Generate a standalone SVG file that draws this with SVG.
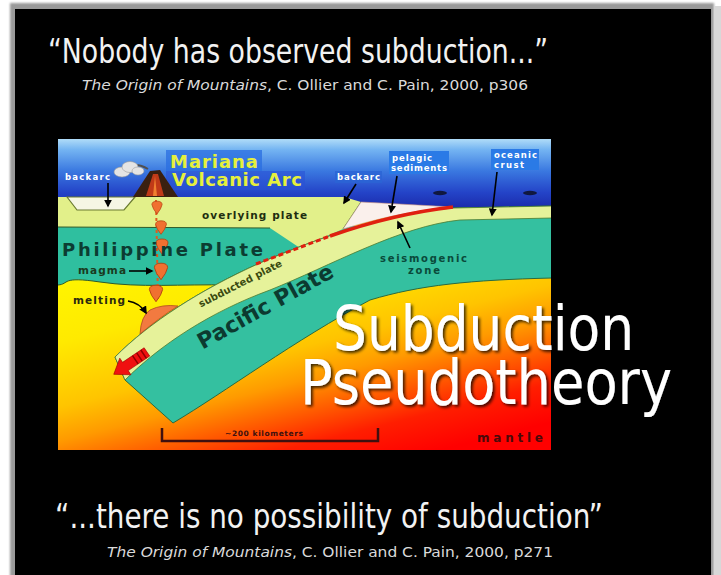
<svg xmlns="http://www.w3.org/2000/svg" width="721" height="575" viewBox="0 0 721 575">
  <defs>
    <style>
      .quote{font-family:"DejaVu Sans Condensed","DejaVu Sans",sans-serif;font-size:34px;fill:#f2f2f2}
      .cite{font-family:"DejaVu Sans Condensed","DejaVu Sans",sans-serif;font-size:13.5px;fill:#dadada}
      .big{font-family:"DejaVu Sans Condensed","DejaVu Sans",sans-serif;font-size:62px;fill:#ffffff}
      .lbl{font-family:"DejaVu Sans",sans-serif;font-weight:bold}
      .wlbl{font-family:"DejaVu Sans",sans-serif;font-weight:bold;font-size:8.5px;fill:#ffffff}
      .arrow{stroke:#000;stroke-width:1.6;fill:none;marker-end:url(#ah)}
      .edge{stroke:#2f5a2a;stroke-width:1;fill:none}
      .drop{fill:#f07030;stroke:#b04010;stroke-width:0.8}
    </style>
    <marker id="ah" viewBox="0 0 10 10" refX="8" refY="5" markerWidth="5" markerHeight="5" orient="auto">
      <path d="M0,0 L10,5 L0,10 Z" fill="#000"/>
    </marker>
    <linearGradient id="oceanGrad" x1="0" y1="139" x2="0" y2="210" gradientUnits="userSpaceOnUse">
      <stop offset="0" stop-color="#b0dcf8"/>
      <stop offset="0.15" stop-color="#74b4f2"/>
      <stop offset="0.45" stop-color="#3a78e0"/>
      <stop offset="0.75" stop-color="#2444c8"/>
      <stop offset="1" stop-color="#1a28a8"/>
    </linearGradient>
    <linearGradient id="mantleGrad" x1="70.6" y1="282.3" x2="131.7" y2="527" gradientUnits="userSpaceOnUse">
      <stop offset="0" stop-color="#fff400"/>
      <stop offset="0.22" stop-color="#ffea00"/>
      <stop offset="0.47" stop-color="#ffc400"/>
      <stop offset="0.6" stop-color="#ff9a00"/>
      <stop offset="0.73" stop-color="#ff5a00"/>
      <stop offset="0.85" stop-color="#ff1e00"/>
      <stop offset="1" stop-color="#ff0000"/>
    </linearGradient>
    <clipPath id="frame">
      <rect x="58" y="139" width="493" height="311"/>
    </clipPath>
    <filter id="shadow" x="-5%" y="-20%" width="110%" height="140%">
      <feDropShadow dx="2" dy="2" stdDeviation="1.5" flood-color="#000" flood-opacity="0.75"/>
    </filter>
    <filter id="soft"><feGaussianBlur stdDeviation="1"/></filter>
    <path id="dropShape" d="M-6,-4 Q-6,-8 0,-8 Q6,-8 6,-4 Q5,1 0,7 Q-5,1 -6,-4 Z"/>
  </defs>

  <!-- slide background with grey edge -->
  <rect width="721" height="575" fill="#ffffff"/>
  <rect x="10" y="3" width="704" height="580" fill="#9a9a9a" filter="url(#soft)"/>
  <rect x="714" y="6" width="7" height="569" fill="#d8d8d8"/>
  <rect x="15" y="9" width="696" height="570" fill="#000000"/>

  <!-- quotes -->
  <g id="quote-top">
    <text class="quote" x="48" y="63" textLength="500" lengthAdjust="spacingAndGlyphs">“Nobody has observed subduction...”</text>
    <text class="cite" x="82" y="90" textLength="446" lengthAdjust="spacingAndGlyphs"><tspan font-style="italic">The Origin of Mountains</tspan>, C. Ollier and C. Pain, 2000, p306</text>
  </g>
  <g id="quote-bottom">
    <text class="quote" x="55" y="528" textLength="548" lengthAdjust="spacingAndGlyphs">“...there is no possibility of subduction”</text>
    <text class="cite" x="107" y="557" textLength="446" lengthAdjust="spacingAndGlyphs"><tspan font-style="italic">The Origin of Mountains</tspan>, C. Ollier and C. Pain, 2000, p271</text>
  </g>

  <!-- cross-section of the Mariana subduction zone -->
  <g id="cross-section" clip-path="url(#frame)">
    <rect id="mantle" x="58" y="139" width="493" height="311" fill="url(#mantleGrad)"/>
    <rect id="ocean" x="58" y="139" width="493" height="76" fill="url(#oceanGrad)"/>
    <rect x="166" y="150" width="96" height="21" fill="#2a6ee0" opacity="0.75"/>
    <rect x="166" y="171" width="139" height="19" fill="#2a52d6" opacity="0.6"/>

    <g id="philippine-plate">
      <path d="M58,226 L360,226 L310,250 L230,285 C180,284 140,288 100,282 S70,284 58,285 Z" fill="#2fbf9f"/>
      <path class="edge" d="M230,285 C180,284 140,288 100,282 S70,284 58,285"/>
    </g>

    <g id="overlying-plate">
      <path d="M58,197 L343,197 Q352,199 361,202 L343,229 L300,248 L270,228 L58,227 Z" fill="#e2f08a"/>
      <path class="edge" d="M58,227 L270,228" stroke="#6a8a30"/>
      <path d="M361,202 L343,229" stroke="#3a8a30" stroke-width="1" fill="none"/>
      <path d="M67,197 L77,210 L124,210 L135,197 Z" fill="#f6f6e4" stroke="#6a7a30" stroke-width="1.2"/>
    </g>

    <g id="sediment-wedge">
      <path d="M343,229 L361,202 Q400,204 453,207 C420,210 390,215 343,229 Z" fill="#faf0ec" stroke="#c89080" stroke-width="0.6"/>
    </g>

    <g id="pacific-plate">
      <path d="M115,357 C150,322 200,290 260,263 C320,237 390,213 453,208 L552,206 L552,278 C470,280 420,285 370,300 C295,340 225,392 173,423 L125,380 Z" fill="#34c0a0" stroke="#2a6a40" stroke-width="1"/>
      <path d="M115,357 C150,322 200,290 260,263 C320,237 390,213 453,208 L552,206 L552,218 L460,220 C400,226 330,266 270,290 C210,312 160,345 125,380 Z" fill="#e6f29a" stroke="#4a7a30" stroke-width="0.8"/>
    </g>

    <g id="seismogenic-line">
      <path d="M256,264 L330,236" stroke="#e02010" stroke-width="3" stroke-dasharray="5,3" fill="none"/>
      <path d="M330,236 C370,222 410,212 453,207" stroke="#e02010" stroke-width="3.5" fill="none"/>
    </g>

    <g id="sea-floor-marks" fill="#101840">
      <ellipse cx="440" cy="193" rx="7" ry="2.2"/>
      <ellipse cx="530" cy="193" rx="7" ry="2.2"/>
    </g>

    <g id="volcano">
      <path d="M148,169 Q138,163 130,166" stroke="#505050" stroke-width="2" fill="none"/>
      <g fill="#e4e4e4" stroke="#9a9a9a" stroke-width="0.6">
        <ellipse cx="122" cy="172" rx="8" ry="5"/>
        <ellipse cx="130" cy="167" rx="8" ry="5.5"/>
        <ellipse cx="138" cy="171" rx="6" ry="4"/>
      </g>
      <path d="M133,197 L150,171 L160,170 L178,197 Z" fill="#3a2010"/>
      <path d="M146,196 L153,174 L158,174 L164,196 Z" fill="#c03a18"/>
      <path d="M153,196 L155,176 L157,196 Z" fill="#f08030"/>
    </g>

    <g id="magma">
      <path d="M156,200 L158,300" stroke="#e05a20" stroke-width="2" stroke-dasharray="3,3" fill="none"/>
      <use href="#dropShape" class="drop" transform="translate(157,208) scale(0.85)"/>
      <use href="#dropShape" class="drop" transform="translate(161,228) scale(0.9)"/>
      <use href="#dropShape" class="drop" transform="translate(162,247) scale(1)"/>
      <use href="#dropShape" class="drop" transform="translate(161,272) scale(1.1)"/>
      <use href="#dropShape" class="drop" transform="translate(156,294) scale(1.1)"/>
      <path id="melt" d="M140,334 Q141,316 150,310 Q162,304 178,306 C165,314 152,324 140,334 Z" fill="#f27a40" stroke="#b04a20" stroke-width="0.8"/>
    </g>

    <g id="slab-arrow" transform="translate(132,362) rotate(146)">
      <path d="M-18,-5 L8,-5 L8,-10 L22,0 L8,10 L8,5 L-18,5 Z" fill="#f01010" stroke="#a00000" stroke-width="0.6"/>
      <path d="M-14,-5 L-14,5 M-9,-5 L-9,5 M-4,-5 L-4,5" stroke="#900000" stroke-width="1.5"/>
    </g>

    <g id="scale-bar">
      <path d="M162,428 L162,441 L378,441 L378,428" stroke="#401010" stroke-width="2.5" fill="none"/>
      <text class="lbl" x="225" y="436" font-size="7.5" fill="#401010" textLength="78">~200 kilometers</text>
    </g>
  </g>

  <g id="labels">
    <text class="lbl" x="170" y="168" font-size="18" fill="#e6f03c" textLength="88">Mariana</text>
    <text class="lbl" x="172" y="186" font-size="18" fill="#e6f03c" textLength="130">Volcanic Arc</text>
    <text class="lbl" x="202" y="219" font-size="10.5" fill="#1e2e10" textLength="105">overlying plate</text>
    <text class="lbl" x="62" y="256" font-size="18" fill="#0c3c32" textLength="201">Philippine Plate</text>
    <text class="lbl" x="78" y="274" font-size="10.5" fill="#1a3a20" textLength="48">magma</text>
    <text class="lbl" x="73" y="304" font-size="10.5" fill="#2a2a10" textLength="52">melting</text>
    <text class="lbl" font-size="10" fill="#3a4a10" textLength="92" transform="translate(240,283) rotate(-27)" x="-46" y="4">subducted plate</text>
    <text class="lbl" font-size="22" fill="#0c3a30" textLength="152" transform="translate(265,306) rotate(-29)" x="-76" y="8">Pacific Plate</text>
    <text class="lbl" x="380" y="262" font-size="10" fill="#0a4a3a" textLength="87">seismogenic</text>
    <text class="lbl" x="408" y="274" font-size="10" fill="#0a4a3a" textLength="32">zone</text>
    <text class="lbl" x="477" y="442" font-size="12" fill="#4a0a0a" textLength="66">mantle</text>

    <text class="wlbl" x="65" y="180" textLength="45">backarc</text>
    <rect x="335" y="171" width="47" height="12" fill="#2a64d4" opacity="0.8"/>
    <text class="wlbl" x="337" y="180" textLength="43">backarc</text>
    <rect x="389" y="151" width="60" height="23" fill="#2a7ae6"/>
    <text class="wlbl" x="392" y="161" textLength="40">pelagic</text>
    <text class="wlbl" x="391" y="171" textLength="56">sediments</text>
    <rect x="491" y="149" width="48" height="21" fill="#2a7ae6"/>
    <text class="wlbl" x="494" y="158" textLength="43">oceanic</text>
    <text class="wlbl" x="494" y="168" textLength="30">crust</text>
  </g>

  <g id="connectors">
    <path class="arrow" d="M108,183 L108,206"/>
    <path class="arrow" d="M356,184 L344,203"/>
    <path class="arrow" d="M397,176 L391,212"/>
    <path class="arrow" d="M497,172 L492,215"/>
    <path class="arrow" d="M410,248 L398,222"/>
    <path class="arrow" d="M129,271 L152,271"/>
    <path class="arrow" d="M128,301 Q140,303 146,313"/>
  </g>

  <g id="title" filter="url(#shadow)">
    <text class="big" x="333" y="350" textLength="301" lengthAdjust="spacingAndGlyphs">Subduction</text>
    <text class="big" x="300" y="404" textLength="372" lengthAdjust="spacingAndGlyphs">Pseudotheory</text>
  </g>
</svg>
